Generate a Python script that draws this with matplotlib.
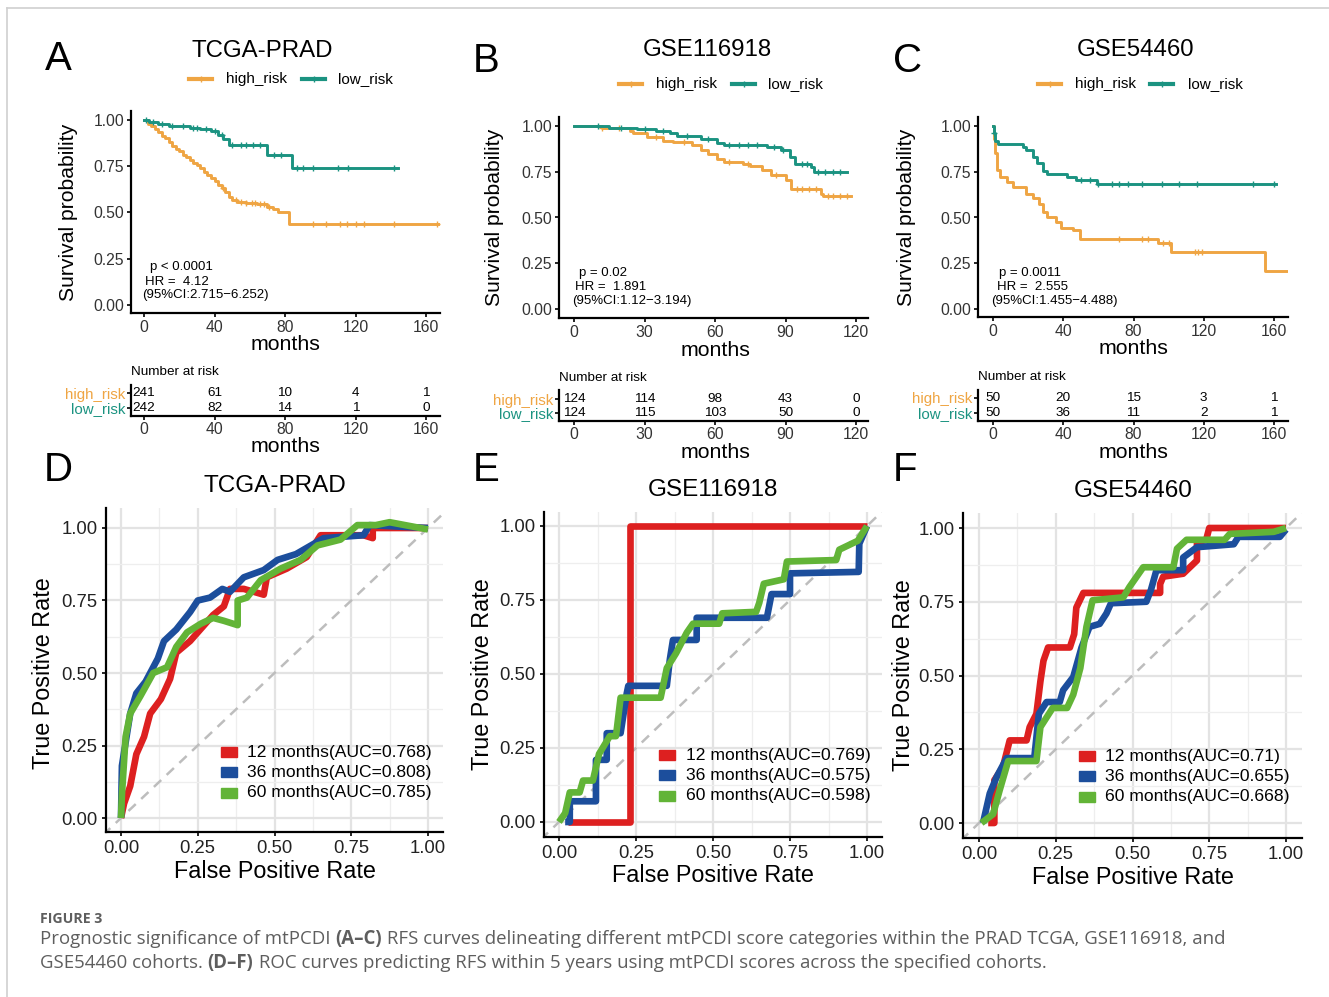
import numpy as np
import matplotlib.pyplot as plt
from matplotlib.patches import Rectangle
from matplotlib.lines import Line2D
from matplotlib.ticker import MultipleLocator

W, H = 1329, 997
plt.rcParams['font.family'] = ['Liberation Sans', 'DejaVu Sans']

ORANGE = '#EFA543'
TEAL = '#1B9381'
RED = '#DD2020'
BLUE = '#1C4E9C'
GREEN = '#62B437'

# ---------------- survival data ----------------
km_titles = ['TCGA-PRAD', 'GSE116918', 'GSE54460']
km_letters = ['A', 'B', 'C']

a_high_t = [0, 2, 4, 6, 8, 10, 12, 14, 16, 18, 20, 22, 24, 26, 28, 30, 32, 34, 36,
            38, 40, 42, 44, 46, 48, 50, 53, 58, 64, 70, 73, 76, 82]
a_high_s = [1.0, 0.98, 0.965, 0.95, 0.935, 0.915, 0.90, 0.88, 0.86, 0.845, 0.83, 0.81,
            0.80, 0.785, 0.77, 0.755, 0.74, 0.72, 0.70, 0.685, 0.67, 0.65, 0.635, 0.61,
            0.585, 0.57, 0.555, 0.55, 0.545, 0.53, 0.52, 0.50, 0.44]
a_high_end = 168
a_high_cens = [45, 52, 55, 58, 61, 63, 66, 68, 71, 96, 103, 111, 115, 120, 125, 142, 166]
a_low_t = [0, 3, 8, 14, 20, 26, 32, 38, 42, 45, 48, 70, 84]
a_low_s = [1.0, 0.99, 0.98, 0.97, 0.965, 0.955, 0.95, 0.94, 0.92, 0.895, 0.865, 0.81, 0.74]
a_low_end = 144
a_low_cens = [1, 5, 10, 16, 22, 28, 30, 35, 40, 44, 50, 55, 58, 62, 66, 74, 78, 87, 90, 96,
              110, 116, 142]

b_high_t = [0, 12, 24, 25, 31, 38, 42, 50, 54, 57, 61, 64, 72, 75, 80, 84, 90, 92.5, 105, 106]
b_high_s = [1.0, 0.99, 0.975, 0.96, 0.94, 0.92, 0.91, 0.895, 0.87, 0.845, 0.82, 0.805,
            0.795, 0.78, 0.76, 0.73, 0.705, 0.655, 0.63, 0.615]
b_high_end = 118
b_high_cens = [12, 19, 35, 47, 66, 74, 86, 95, 97, 100, 103, 108, 110, 113, 116]
b_low_t = [0, 15, 27, 35, 41, 44, 54, 61, 64, 82, 88, 92, 94, 101, 102]
b_low_s = [1.0, 0.99, 0.985, 0.975, 0.96, 0.945, 0.93, 0.905, 0.895, 0.885, 0.87, 0.83,
           0.795, 0.775, 0.75]
b_low_end = 116
b_low_cens = [10, 20, 30, 38, 48, 57, 66, 70, 74, 78, 85, 89, 97, 99, 104, 107, 110, 113]

c_high_t = [0, 0.5, 1, 2, 4, 8, 11.5, 19, 23, 26, 28.5, 30.5, 36, 39, 45.7, 49.5, 94, 101.6,
            154.7]
c_high_s = [1.0, 0.93, 0.85, 0.76, 0.72, 0.695, 0.665, 0.63, 0.605, 0.575, 0.53, 0.505,
            0.475, 0.44, 0.43, 0.385, 0.36, 0.31, 0.21]
c_high_end = 168
c_high_cens = [72, 85, 88, 97, 100, 115, 117, 119]
c_low_t = [0, 0.3, 1, 3, 17, 19, 23, 25, 28.5, 30.5, 42, 47.5, 59]
c_low_s = [1.0, 0.96, 0.92, 0.90, 0.885, 0.87, 0.83, 0.80, 0.755, 0.74, 0.72, 0.705, 0.685]
c_low_end = 161
c_low_cens = [0.5, 50, 55, 60, 68, 72, 77, 85, 96, 106, 116, 148, 160]

km_stats = [['p < 0.0001', 'HR =  4.12', '(95%CI:2.715\u22126.252)'],
            ['p = 0.02', 'HR =  1.891', '(95%CI:1.12\u22123.194)'],
            ['p = 0.0011', 'HR =  2.555', '(95%CI:1.455\u22124.488)']]

risk_times = [[0, 40, 80, 120, 160], [0, 30, 60, 90, 120], [0, 40, 80, 120, 160]]
risk_high = [[241, 61, 10, 4, 1], [124, 114, 98, 43, 0], [50, 20, 15, 3, 1]]
risk_low = [[242, 82, 14, 1, 0], [124, 115, 103, 50, 0], [50, 36, 11, 2, 1]]

# ---------------- ROC data ----------------
roc_titles = ['TCGA-PRAD', 'GSE116918', 'GSE54460']
roc_letters = ['D', 'E', 'F']
roc_labels = [['12 months(AUC=0.768)', '36 months(AUC=0.808)', '60 months(AUC=0.785)'],
              ['12 months(AUC=0.769)', '36 months(AUC=0.575)', '60 months(AUC=0.598)'],
              ['12 months(AUC=0.71)', '36 months(AUC=0.655)', '60 months(AUC=0.668)']]

d_red_x = [0.0, 0.01, 0.03, 0.05, 0.075, 0.095, 0.13, 0.16, 0.18, 0.225, 0.3, 0.335,
           0.355, 0.40, 0.465, 0.475, 0.54, 0.605, 0.65, 0.75, 0.79, 0.82, 0.82, 1.0]
d_red_y = [0.0, 0.05, 0.11, 0.22, 0.28, 0.36, 0.41, 0.48, 0.57, 0.61, 0.70, 0.73,
           0.79, 0.79, 0.77, 0.83, 0.86, 0.90, 0.975, 0.975, 0.975, 0.965, 1.0, 1.0]
d_blue_x = [0.0, 0.003, 0.03, 0.05, 0.08, 0.12, 0.14, 0.18, 0.225, 0.25, 0.29, 0.33,
            0.355, 0.40, 0.465, 0.51, 0.57, 0.66, 0.79, 0.81, 0.90, 1.0]
d_blue_y = [0.0, 0.18, 0.36, 0.43, 0.47, 0.55, 0.61, 0.65, 0.71, 0.75, 0.76, 0.79,
            0.78, 0.83, 0.855, 0.89, 0.91, 0.965, 0.975, 1.01, 1.005, 1.0]
d_green_x = [0.0, 0.003, 0.015, 0.03, 0.063, 0.105, 0.15, 0.18, 0.215, 0.26, 0.30, 0.335,
             0.38, 0.38, 0.41, 0.455, 0.52, 0.585, 0.64, 0.715, 0.77, 0.83, 0.875, 0.95, 1.0]
d_green_y = [0.0, 0.08, 0.28, 0.36, 0.42, 0.50, 0.52, 0.59, 0.64, 0.67, 0.69, 0.68,
             0.665, 0.75, 0.76, 0.82, 0.86, 0.89, 0.94, 0.96, 1.01, 1.01, 1.02, 1.005, 0.995]

e_red_x = [0.03, 0.23, 0.23, 1.0]
e_red_y = [0.0, 0.0, 1.0, 1.0]
e_blue_x = [0.02, 0.035, 0.035, 0.12, 0.12, 0.155, 0.155, 0.20, 0.22, 0.225, 0.35, 0.36,
            0.37, 0.447, 0.447, 0.675, 0.69, 0.75, 0.75, 0.973, 0.975, 1.0]
e_blue_y = [0.0, 0.0, 0.07, 0.07, 0.21, 0.21, 0.30, 0.30, 0.435, 0.46, 0.46, 0.55,
            0.615, 0.615, 0.69, 0.69, 0.77, 0.77, 0.84, 0.845, 0.94, 1.0]
e_green_x = [0.0, 0.02, 0.035, 0.067, 0.078, 0.11, 0.13, 0.165, 0.185, 0.20, 0.33, 0.35,
             0.38, 0.415, 0.435, 0.52, 0.53, 0.64, 0.65, 0.665, 0.73, 0.74, 0.90, 0.91,
             0.97, 1.0]
e_green_y = [0.0, 0.03, 0.10, 0.10, 0.14, 0.14, 0.23, 0.29, 0.29, 0.42, 0.42, 0.52,
             0.57, 0.64, 0.67, 0.67, 0.705, 0.71, 0.74, 0.805, 0.82, 0.88, 0.885, 0.92,
             0.95, 1.0]

f_red_x = [0.03, 0.05, 0.05, 0.078, 0.10, 0.155, 0.165, 0.187, 0.20, 0.21, 0.225, 0.296,
           0.31, 0.317, 0.34, 0.59, 0.59, 0.60, 0.665, 0.71, 0.71, 0.74, 0.75, 1.0]
f_red_y = [0.0, 0.0, 0.145, 0.19, 0.28, 0.28, 0.325, 0.37, 0.48, 0.55, 0.595, 0.595,
           0.64, 0.73, 0.78, 0.78, 0.81, 0.835, 0.845, 0.89, 0.95, 0.96, 1.0, 1.0]
f_blue_x = [0.013, 0.035, 0.057, 0.09, 0.18, 0.195, 0.22, 0.263, 0.274, 0.307, 0.334,
            0.36, 0.393, 0.415, 0.43, 0.545, 0.56, 0.578, 0.665, 0.665, 0.71, 0.83, 0.845,
            0.98, 1.0]
f_blue_y = [0.0, 0.10, 0.155, 0.22, 0.22, 0.37, 0.41, 0.41, 0.45, 0.495, 0.595, 0.665,
            0.675, 0.71, 0.745, 0.75, 0.79, 0.857, 0.857, 0.90, 0.935, 0.945, 0.97, 0.97,
            0.995]
f_green_x = [0.008, 0.046, 0.067, 0.095, 0.187, 0.20, 0.24, 0.287, 0.307, 0.33, 0.35, 0.37,
             0.47, 0.49, 0.535, 0.633, 0.645, 0.676, 0.80, 0.817, 0.96, 1.0]
f_green_y = [0.0, 0.03, 0.11, 0.21, 0.21, 0.325, 0.39, 0.39, 0.435, 0.525, 0.665, 0.755,
             0.765, 0.80, 0.867, 0.867, 0.93, 0.96, 0.96, 0.98, 0.987, 1.0]

km_data = [
    [(a_high_t, a_high_s, a_high_end, a_high_cens), (a_low_t, a_low_s, a_low_end, a_low_cens)],
    [(b_high_t, b_high_s, b_high_end, b_high_cens), (b_low_t, b_low_s, b_low_end, b_low_cens)],
    [(c_high_t, c_high_s, c_high_end, c_high_cens), (c_low_t, c_low_s, c_low_end, c_low_cens)],
]
roc_data = [
    [(d_red_x, d_red_y), (d_blue_x, d_blue_y), (d_green_x, d_green_y)],
    [(e_red_x, e_red_y), (e_blue_x, e_blue_y), (e_green_x, e_green_y)],
    [(f_red_x, f_red_y), (f_blue_x, f_blue_y), (f_green_x, f_green_y)],
]

# ---------------- layout in pixels ----------------
# survival: axes l, t, r, b ; x px of first/last tick ; y px of 1.00 and 0.00
km_box = [(131, 111, 440, 313), (559, 117, 868, 318), (978, 117, 1288, 317)]
km_xpx = [(144, 426), (574, 856), (993, 1274)]
km_ypx = [(120, 305), (126, 309), (126, 309)]
km_xmax = [160, 120, 160]
km_title_xy = [(262, 51), (707, 50), (1136, 50)]
km_letter_xy = [(58, 59), (486, 61), (908, 61)]
km_leg = [(189, 226, 302, 338, 79), (619, 656, 732, 768, 84), (1038, 1075, 1150, 1188, 84)]
km_ylab_x = [68, 494, 906]
km_months_y = [344, 350, 349]
km_stat_xy = [[(150, 267), (145, 282), (142, 295)],
              [(579, 273), (575, 287), (572, 301)],
              [(999, 273), (997, 287), (991, 301)]]
tab_box = [(131, 385, 440, 416), (559, 390, 868, 421), (978, 390, 1288, 421)]
tab_rows = [(393, 408), (399, 413), (398, 413)]
tab_title_y = [372, 378, 377]
tab_months_y = [446, 452, 452]

roc_box = [(106, 508, 443, 832), (544, 512, 882, 837), (963, 513, 1302, 838)]
roc_xpx = [(121, 428), (559, 867), (979, 1286)]
roc_ypx = [(528, 818), (526, 822), (528, 823)]
roc_title_xy = [(275, 486), (713, 490), (1133, 491)]
roc_letter_xy = [(58, 470), (486, 470), (905, 470)]
roc_ylab_x = [44, 483, 903]
roc_xlab_y = [871, 876, 877]
roc_leg = [(221, 247, 752), (659, 686, 755), (1079, 1105, 756)]


def fx(x):
    return x / W


def fy(y):
    return 1 - y / H


def px_axes(fig, box):
    l, t, r, b = box
    return fig.add_axes([l / W, 1 - b / H, (r - l) / W, (b - t) / H])


def lims(p0, p1, v0, v1, e0, e1):
    k = (v1 - v0) / (p1 - p0)
    return v0 + (e0 - p0) * k, v0 + (e1 - p0) * k


def step_at(t, s, x):
    i = np.searchsorted(np.asarray(t), x, side='right') - 1
    return np.asarray(s)[i]


fig = plt.figure(figsize=(W / 100, H / 100), dpi=100)

# frame lines of the figure page
fig.add_artist(Line2D([fx(7), 1], [fy(8), fy(8)], color='#D0D0D0', lw=1.2))
fig.add_artist(Line2D([fx(7), fx(7)], [fy(8), 0], color='#D0D0D0', lw=1.2))

tick_col = '#333333'

for i in range(3):
    l, t, r, b = km_box[i]
    xmid = (km_xpx[i][0] + km_xpx[i][1]) / 2
    ax = px_axes(fig, km_box[i])
    ax.set_xlim(*lims(km_xpx[i][0], km_xpx[i][1], 0, km_xmax[i], l, r))
    ax.set_ylim(*lims(km_ypx[i][1], km_ypx[i][0], 0, 1, b, t))
    for (tt, ss, end, cens), col in zip(km_data[i], [ORANGE, TEAL]):
        ax.step(list(tt) + [end], list(ss) + [ss[-1]], where='post', color=col, lw=2.1)
        cy = [step_at(tt, ss, c) for c in cens]
        ax.plot(cens, cy, ls='none', marker='+', ms=5, mew=1.0, color=col)
    for sp in ['top', 'right']:
        ax.spines[sp].set_visible(False)
    for sp in ['left', 'bottom']:
        ax.spines[sp].set_linewidth(1.6)
    ax.set_xticks(risk_times[i])
    ax.set_yticks([0, 0.25, 0.5, 0.75, 1.0])
    ax.set_yticklabels(['0.00', '0.25', '0.50', '0.75', '1.00'])
    ax.tick_params(labelsize=11.3, labelcolor=tick_col, length=3, width=1.2, pad=2)
    for (sx, sy), s in zip(km_stat_xy[i], km_stats[i]):
        fig.text(fx(sx), fy(sy), s, fontsize=9.5, va='center', ha='left')

    # titles, legends, labels
    fig.text(fx(km_title_xy[i][0]), fy(km_title_xy[i][1]), km_titles[i], fontsize=17.3,
             ha='center', va='center')
    fig.text(fx(km_letter_xy[i][0]), fy(km_letter_xy[i][1]), km_letters[i], fontsize=29,
             ha='center', va='center')
    x1, xt1, x2, xt2, ly = km_leg[i]
    for xs, xt, col, lab in [(x1, xt1, ORANGE, 'high_risk'), (x2, xt2, TEAL, 'low_risk')]:
        fig.add_artist(Line2D([fx(xs), fx(xs + 23)], [fy(ly), fy(ly)], color=col, lw=3))
        fig.add_artist(Line2D([fx(xs + 11.5)], [fy(ly)], ls='none', marker='+', ms=5,
                              mew=1, color=col))
        fig.text(fx(xt), fy(ly), lab, fontsize=11, ha='left', va='center')
    fig.text(fx(km_ylab_x[i]), fy((t + b) / 2), 'Survival probability', fontsize=15.2,
             rotation=90, ha='center', va='center')
    fig.text(fx(xmid), fy(km_months_y[i]), 'months', fontsize=15.3,
             ha='center', va='center')

    # risk table
    tl, tt_, tr, tb = tab_box[i]
    tax = px_axes(fig, tab_box[i])
    tax.set_xlim(*lims(km_xpx[i][0], km_xpx[i][1], 0, km_xmax[i], tl, tr))
    hy, ly2 = tab_rows[i]
    tax.set_ylim(*lims(ly2, hy, 1, 2, tb, tt_))
    for x, n in zip(risk_times[i], risk_high[i]):
        tax.text(x, 2, str(n), fontsize=9.7, ha='center', va='center')
    for x, n in zip(risk_times[i], risk_low[i]):
        tax.text(x, 1, str(n), fontsize=9.7, ha='center', va='center')
    for sp in ['top', 'right']:
        tax.spines[sp].set_visible(False)
    for sp in ['left', 'bottom']:
        tax.spines[sp].set_linewidth(1.6)
    tax.set_xticks(risk_times[i])
    tax.set_yticks([2, 1])
    tax.set_yticklabels(['high_risk', 'low_risk'])
    tax.get_yticklabels()[0].set_color(ORANGE)
    tax.get_yticklabels()[1].set_color(TEAL)
    tax.tick_params(axis='x', labelsize=11.3, labelcolor=tick_col, length=3, width=1.2, pad=1)
    tax.tick_params(axis='y', labelsize=10.8, length=3, width=1.2, pad=1)
    fig.text(fx(tl), fy(tab_title_y[i]), 'Number at risk', fontsize=9.7, ha='left',
             va='center')
    fig.text(fx(xmid), fy(tab_months_y[i]), 'months', fontsize=15.3,
             ha='center', va='center')

for i in range(3):
    l, t, r, b = roc_box[i]
    ax = px_axes(fig, roc_box[i])
    ax.set_xlim(*lims(roc_xpx[i][0], roc_xpx[i][1], 0, 1, l, r))
    ax.set_ylim(*lims(roc_ypx[i][1], roc_ypx[i][0], 0, 1, b, t))
    ax.xaxis.set_major_locator(MultipleLocator(0.25))
    ax.yaxis.set_major_locator(MultipleLocator(0.25))
    ax.xaxis.set_minor_locator(MultipleLocator(0.125))
    ax.yaxis.set_minor_locator(MultipleLocator(0.125))
    ax.grid(which='major', color='#E3E3E3', lw=1.6)
    ax.grid(which='minor', color='#EEEEEE', lw=0.9)
    ax.set_axisbelow(True)
    ax.tick_params(which='minor', length=0)
    ax.tick_params(which='major', labelsize=13.3, labelcolor='#222222', length=3,
                   width=1.2, pad=3)
    ax.set_xticks([0, 0.25, 0.5, 0.75, 1.0])
    ax.set_xticklabels(['0.00', '0.25', '0.50', '0.75', '1.00'])
    ax.set_yticks([0, 0.25, 0.5, 0.75, 1.0])
    ax.set_yticklabels(['0.00', '0.25', '0.50', '0.75', '1.00'])
    for sp in ['top', 'right']:
        ax.spines[sp].set_visible(False)
    for sp in ['left', 'bottom']:
        ax.spines[sp].set_linewidth(1.6)
    ax.plot([-0.1, 1.1], [-0.1, 1.1], color='#BDBDBD', lw=1.8, ls=(0, (4, 3)), zorder=2)
    for (xs, ys), col in zip(roc_data[i], [RED, BLUE, GREEN]):
        ax.plot(xs, ys, color=col, lw=4.8, solid_joinstyle='round',
                solid_capstyle='butt', zorder=3)

    fig.text(fx(roc_title_xy[i][0]), fy(roc_title_xy[i][1]), roc_titles[i], fontsize=17.5,
             ha='center', va='center')
    fig.text(fx(roc_letter_xy[i][0]), fy(roc_letter_xy[i][1]), roc_letters[i], fontsize=29,
             ha='center', va='center')
    fig.text(fx(roc_ylab_x[i]), fy((roc_ypx[i][0] + roc_ypx[i][1]) / 2), 'True Positive Rate',
             fontsize=16.8, rotation=90, ha='center', va='center')
    fig.text(fx((roc_xpx[i][0] + roc_xpx[i][1]) / 2), fy(roc_xlab_y[i]), 'False Positive Rate',
             fontsize=16.8, ha='center', va='center')
    sx, tx, sy = roc_leg[i]
    for k, (col, lab) in enumerate(zip([RED, BLUE, GREEN], roc_labels[i])):
        yy = sy + 20.3 * k
        fig.add_artist(Rectangle((fx(sx), fy(yy + 5)), 16 / W, 10 / H, color=col,
                                 transform=fig.transFigure))
        fig.text(fx(tx), fy(yy), lab, fontsize=12.6, ha='left', va='center')

# caption
cap_col = '#5E5E5E'
fig.text(fx(40), fy(919), 'FIGURE 3', fontsize=10.2, color=cap_col, ha='left', va='center',
         family='Open Sans', weight='bold')

renderer = fig.canvas.get_renderer()


def rich_line(x, y, parts):
    for txt, bold in parts:
        t = fig.text(fx(x), fy(y), txt, fontsize=13.4, color=cap_col, ha='left',
                     va='center', family='Open Sans', weight='bold' if bold else 'normal')
        x += t.get_window_extent(renderer).width


rich_line(40, 939, [('Prognostic significance of mtPCDI ', False), ('(A\u2013C)', True),
                    (' RFS curves delineating different mtPCDI score categories within the '
                     'PRAD TCGA, GSE116918, and', False)])
rich_line(40, 963, [('GSE54460 cohorts. ', False), ('(D\u2013F)', True),
                    (' ROC curves predicting RFS within 5 years using mtPCDI scores across '
                     'the specified cohorts.', False)])

fig.savefig('out.png', dpi=100)
